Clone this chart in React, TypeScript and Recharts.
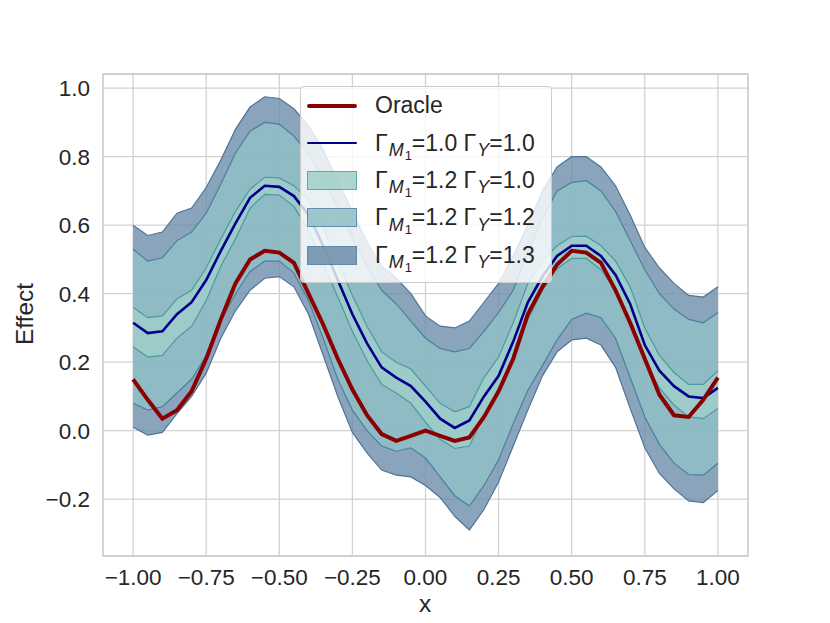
import { Area, CartesianGrid, ComposedChart, Label, Line, ReferenceArea, XAxis, YAxis } from "recharts";

const xValues = [
  -1.0, -0.95, -0.9, -0.85, -0.8, -0.75, -0.7, -0.65, -0.6, -0.55, -0.5, -0.45, -0.4, -0.35, -0.3, -0.25, -0.2, -0.15,
  -0.1, -0.05, 0.0, 0.05, 0.1, 0.15, 0.2, 0.25, 0.3, 0.35, 0.4, 0.45, 0.5, 0.55, 0.6, 0.65, 0.7, 0.75, 0.8, 0.85, 0.9,
  0.95, 1.0,
];

const oracle = [
  0.15, 0.09, 0.035, 0.06, 0.115, 0.21, 0.325, 0.43, 0.5, 0.525, 0.52, 0.49, 0.4, 0.31, 0.21, 0.12, 0.045, -0.01, -0.03,
  -0.015, 0.0, -0.015, -0.03, -0.02, 0.04, 0.115, 0.21, 0.34, 0.42, 0.485, 0.525, 0.52, 0.49, 0.41, 0.315, 0.21, 0.105,
  0.045, 0.04, 0.09, 0.155,
];

// Gamma_M1 = 1.0, Gamma_Y = 1.0 (point estimate)
const gamma10 = [
  0.315, 0.285, 0.29, 0.34, 0.375, 0.44, 0.525, 0.605, 0.68, 0.715, 0.712, 0.685, 0.63, 0.54, 0.44, 0.34, 0.255, 0.185,
  0.155, 0.13, 0.085, 0.035, 0.008, 0.03, 0.1, 0.16, 0.26, 0.375, 0.45, 0.51, 0.54, 0.54, 0.51, 0.455, 0.37, 0.25, 0.175,
  0.13, 0.1, 0.095, 0.125,
];

// Gamma_M1 = 1.2, Gamma_Y = 1.0
const bandY10Low = [
  0.245, 0.215, 0.22, 0.27, 0.305, 0.38, 0.48, 0.56, 0.65, 0.69, 0.688, 0.655, 0.585, 0.49, 0.39, 0.29, 0.205, 0.135,
  0.11, 0.08, 0.025, -0.025, -0.052, -0.045, 0.045, 0.11, 0.21, 0.325, 0.41, 0.473, 0.503, 0.503, 0.47, 0.41, 0.32, 0.2,
  0.125, 0.075, 0.04, 0.035, 0.065,
];
const bandY10High = [
  0.36, 0.33, 0.335, 0.385, 0.41, 0.475, 0.56, 0.64, 0.705, 0.74, 0.738, 0.715, 0.675, 0.595, 0.495, 0.395, 0.305, 0.23,
  0.2, 0.18, 0.13, 0.08, 0.055, 0.07, 0.155, 0.215, 0.315, 0.43, 0.495, 0.54, 0.567, 0.568, 0.54, 0.495, 0.42, 0.3, 0.22,
  0.17, 0.135, 0.135, 0.175,
];

// Gamma_M1 = 1.2, Gamma_Y = 1.2
const bandY12Low = [
  0.08, 0.06, 0.07, 0.11, 0.15, 0.22, 0.32, 0.4, 0.465, 0.495, 0.495, 0.46, 0.38, 0.27, 0.15, 0.06, 0.0, -0.045, -0.06,
  -0.05, -0.08, -0.135, -0.19, -0.22, -0.16, -0.085, 0.02, 0.118, 0.19, 0.265, 0.325, 0.343, 0.33, 0.27, 0.155, 0.04,
  -0.04, -0.095, -0.128, -0.13, -0.095,
];
const bandY12High = [
  0.53, 0.495, 0.505, 0.555, 0.58, 0.635, 0.72, 0.81, 0.875, 0.9, 0.895, 0.86, 0.81, 0.74, 0.65, 0.56, 0.48, 0.41, 0.37,
  0.32, 0.27, 0.24, 0.23, 0.24, 0.29, 0.345, 0.41, 0.52, 0.62, 0.7, 0.725, 0.73, 0.7, 0.64, 0.555, 0.47, 0.4, 0.355,
  0.325, 0.315, 0.345,
];

// Gamma_M1 = 1.2, Gamma_Y = 1.3
const bandY13Low = [
  0.01, -0.013, -0.005, 0.05, 0.1, 0.168, 0.27, 0.35, 0.41, 0.445, 0.45, 0.42, 0.34, 0.22, 0.1, -0.005, -0.065, -0.115,
  -0.13, -0.135, -0.16, -0.195, -0.25, -0.29, -0.23, -0.15, -0.045, 0.06, 0.16, 0.23, 0.265, 0.27, 0.25, 0.185, 0.065,
  -0.05, -0.125, -0.17, -0.205, -0.21, -0.175,
];
const bandY13High = [
  0.6, 0.57, 0.58, 0.635, 0.65, 0.71, 0.79, 0.88, 0.945, 0.975, 0.97, 0.94, 0.89, 0.82, 0.73, 0.64, 0.55, 0.48, 0.445,
  0.4, 0.335, 0.305, 0.3, 0.32, 0.375, 0.43, 0.51, 0.6, 0.7, 0.77, 0.8, 0.8, 0.77, 0.715, 0.63, 0.535, 0.475, 0.43,
  0.395, 0.39, 0.42,
];

const xTicks = [-1, -0.75, -0.5, -0.25, 0, 0.25, 0.5, 0.75, 1];
const yTicks = [-0.2, 0, 0.2, 0.4, 0.6, 0.8, 1.0];

const X_DOMAIN: [number, number] = [-1.103, 1.103];
const Y_DOMAIN: [number, number] = [-0.366, 1.0415];

const data = xValues.map((x, i) => ({
  x,
  oracle: oracle[i],
  gamma10: gamma10[i],
  bandY10: [bandY10Low[i], bandY10High[i]],
  bandY12: [bandY12Low[i], bandY12High[i]],
  bandY13: [bandY13Low[i], bandY13High[i]],
}));

const TEXT = "#262626";
const FONT = '"Liberation Sans", Arial, Helvetica, sans-serif';

const bands = {
  y10: { fill: "#9fcfc9", stroke: "#4c9a9c" },
  y12: { fill: "#90c0c7", stroke: "#4a809e" },
  y13: { fill: "#6d8dab", stroke: "#4d7598" },
};

function formatTick(value: number, digits: number) {
  const s = Math.abs(value).toFixed(digits);
  return value < -1e-9 ? `\u2212${s}` : s;
}

function GammaLabel({ m, y }: { m: string; y: string }) {
  return (
    <span>
      Γ
      <span style={{ fontSize: "0.78em", position: "relative", top: "0.3em", fontStyle: "italic", marginLeft: 1 }}>
        M
        <span style={{ fontSize: "0.72em", position: "relative", top: "0.28em", fontStyle: "normal", marginLeft: 1 }}>
          1
        </span>
      </span>
      ={m} Γ
      <span style={{ fontSize: "0.78em", position: "relative", top: "0.3em", fontStyle: "italic", marginLeft: 1 }}>
        Y
      </span>
      ={y}
    </span>
  );
}

const legendItems = [
  { key: "oracle", kind: "line", color: "#8b0000", width: 4, label: <span>Oracle</span> },
  { key: "g10", kind: "line", color: "#00008b", width: 2.6, label: <GammaLabel m="1.0" y="1.0" /> },
  { key: "y10", kind: "patch", ...bands.y10, label: <GammaLabel m="1.2" y="1.0" /> },
  { key: "y12", kind: "patch", ...bands.y12, label: <GammaLabel m="1.2" y="1.2" /> },
  { key: "y13", kind: "patch", ...bands.y13, label: <GammaLabel m="1.2" y="1.3" /> },
];

function ChartLegend() {
  return (
    <div
      style={{
        position: "absolute",
        left: 300,
        top: 86,
        width: 252,
        height: 197,
        boxSizing: "border-box",
        background: "rgba(255,255,255,0.8)",
        border: "1px solid #cccccc",
        borderRadius: 4,
        fontSize: 23,
        color: TEXT,
      }}
    >
      {legendItems.map((item) => (
        <div key={item.key} style={{ display: "flex", alignItems: "center", height: 37.4, whiteSpace: "nowrap" }}>
          <div style={{ width: 50, marginLeft: 6, marginRight: 18, display: "flex", alignItems: "center" }}>
            {item.kind === "line" ? (
              <div style={{ width: 50, height: item.width, background: item.color, borderRadius: 2 }} />
            ) : (
              <div
                style={{
                  width: 48,
                  height: 17,
                  background: item.fill,
                  opacity: 0.85,
                  border: `1px solid ${item.stroke}`,
                }}
              />
            )}
          </div>
          {item.label}
        </div>
      ))}
    </div>
  );
}

export default function App() {
  return (
    <div style={{ position: "absolute", left: 0, top: 0, width: 830, height: 623, background: "#ffffff", fontFamily: FONT }}>
      <ComposedChart width={830} height={623} data={data} margin={{ top: 74, right: 82, bottom: 8, left: 23 }}>
        <CartesianGrid stroke="#d2d2d2" strokeWidth={1.3} />
        <XAxis
          type="number"
          dataKey="x"
          domain={X_DOMAIN}
          ticks={xTicks}
          allowDataOverflow
          tickFormatter={(v) => formatTick(Number(v), 2)}
          axisLine={false}
          tickLine={false}
          tickSize={0}
          tickMargin={13}
          height={59}
          tick={{ fill: TEXT, fontSize: 22.5 }}
        >
          <Label
            content={() => (
              <text x={425} y={612} textAnchor="middle" fill={TEXT} fontSize={24.5}>
                x
              </text>
            )}
          />
        </XAxis>
        <YAxis
          type="number"
          domain={Y_DOMAIN}
          ticks={yTicks}
          allowDataOverflow
          tickFormatter={(v) => formatTick(Number(v), 1)}
          axisLine={false}
          tickLine={false}
          tickSize={0}
          tickMargin={13}
          width={80}
          tick={{ fill: TEXT, fontSize: 22.5 }}
        >
          <Label
            content={() => (
              <text x={33} y={314} transform="rotate(-90 33 314)" textAnchor="middle" fill={TEXT} fontSize={24.5}>
                Effect
              </text>
            )}
          />
        </YAxis>
        <Area
          type="linear"
          dataKey="bandY13"
          fill={bands.y13.fill}
          fillOpacity={0.8}
          stroke={bands.y13.stroke}
          strokeWidth={1.2}
          dot={false}
          activeDot={false}
          isAnimationActive={false}
        />
        <Area
          type="linear"
          dataKey="bandY12"
          fill={bands.y12.fill}
          fillOpacity={0.8}
          stroke={bands.y12.stroke}
          strokeWidth={1.2}
          dot={false}
          activeDot={false}
          isAnimationActive={false}
        />
        <Area
          type="linear"
          dataKey="bandY10"
          fill={bands.y10.fill}
          fillOpacity={0.8}
          stroke={bands.y10.stroke}
          strokeWidth={1.2}
          dot={false}
          activeDot={false}
          isAnimationActive={false}
        />
        <Line
          type="linear"
          dataKey="gamma10"
          stroke="#00008b"
          strokeWidth={2.6}
          dot={false}
          activeDot={false}
          isAnimationActive={false}
        />
        <Line
          type="linear"
          dataKey="oracle"
          stroke="#8b0000"
          strokeWidth={4}
          dot={false}
          activeDot={false}
          isAnimationActive={false}
        />
        <ReferenceArea
          x1={X_DOMAIN[0]}
          x2={X_DOMAIN[1]}
          y1={Y_DOMAIN[0]}
          y2={Y_DOMAIN[1]}
          fill="none"
          fillOpacity={0}
          stroke="#cccccc"
          strokeWidth={1.3}
        />
      </ComposedChart>
      <ChartLegend />
    </div>
  );
}
